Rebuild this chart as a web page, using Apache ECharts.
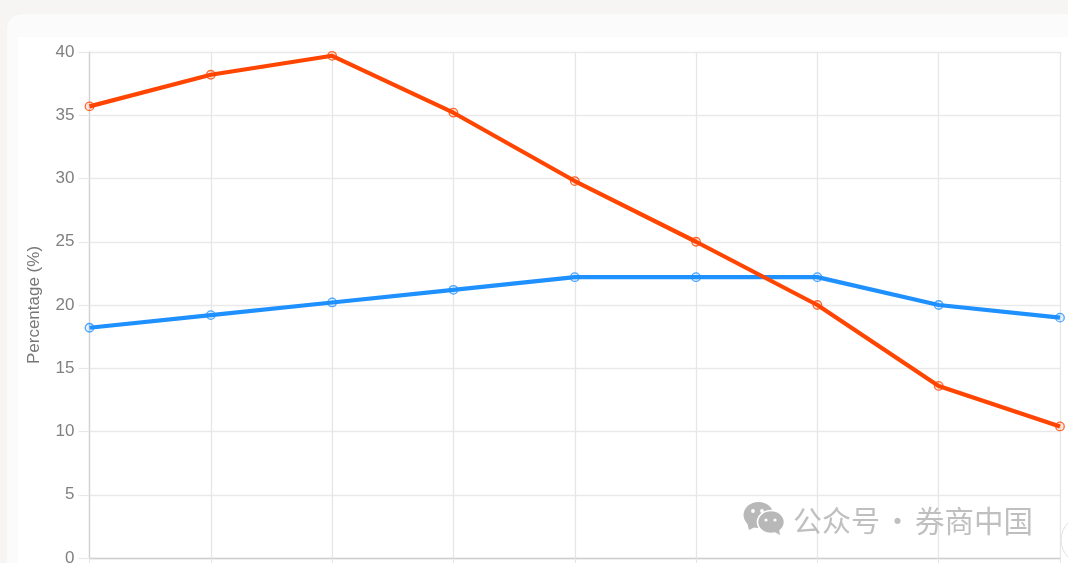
<!DOCTYPE html>
<html><head><meta charset="utf-8">
<style>
html,body{margin:0;padding:0;background:#f6f5f3;overflow:hidden}
#card{position:absolute;left:7px;top:14px;width:1100px;height:600px;background:#fbfbfb;border-radius:14px;box-shadow:0 0 1px #e8e8e6}
#panel{position:absolute;left:18px;top:37px;width:1060px;height:540px;background:#fff}
#chart{position:absolute;left:0;top:0;width:1068px;height:563px}
</style>
<script src="https://cdn.jsdelivr.net/npm/echarts@6/dist/echarts.min.js"></script>
</head><body>
<div id="card"></div><div id="panel"></div><div id="chart"></div>
<script>
const categories = ['1','2','3','4','5','6','7','8','9'];
const redValues = [35.7, 38.2, 39.7, 35.2, 29.8, 25, 20, 13.6, 10.4];
const blueValues = [18.2, 19.2, 20.2, 21.2, 22.2, 22.2, 22.2, 20, 19];
const yAxisTitle = 'Percentage (%)';
const watermarkA = '公众号';
const watermarkDot = '·';
const watermarkB = '券商中国';

const chart = echarts.init(document.getElementById('chart'), null, {renderer:'canvas'});
const mkSeries = (name, data, color, fill) => ({
  name, type:'line', data, clip:false, smooth:false,
  symbol:'circle', symbolSize:8.5, showSymbol:true,
  lineStyle:{color, width:4.2},
  itemStyle:{color:fill, borderColor:color, borderWidth:1.3, opacity:.8},
  emphasis:{disabled:true}, z:5
});
const wmColor = '#b8b8b8';
const wmText = (x, t, size) => ({
  type:'text', left:x, top:526-size*0.68, z:20, silent:true,
  style:{text:t, fill:wmColor, font:`${size}px "Noto Sans CJK SC"`, opacity:.9}
});
chart.setOption({
  animation:false,
  backgroundColor:'transparent',
  grid:{left:89.5, right:8, top:52, bottom:5, containLabel:false, outerBoundsMode:'none'},
  xAxis:{
    type:'category', data:categories, boundaryGap:false,
    axisLine:{show:true, lineStyle:{color:'#cfcfcf', width:1.3}},
    axisTick:{show:true, length:6, alignWithLabel:true, lineStyle:{color:'#e4e4e4'}},
    axisLabel:{show:false},
    splitLine:{show:true, lineStyle:{color:'#e6e6e6', width:1.3}}
  },
  yAxis:{
    type:'value', min:0, max:40, interval:5,
    name:yAxisTitle, nameLocation:'middle', nameGap:47, nameRotate:90,
    nameTextStyle:{color:'#777', fontSize:17, fontFamily:'Liberation Sans'},
    axisLine:{show:true, lineStyle:{color:'#d2d2d2', width:1.3}},
    axisTick:{show:true, length:11, lineStyle:{color:'#e8e8e8', width:1.2}},
    axisLabel:{color:'#808080', fontSize:17, margin:15, fontFamily:'Liberation Sans'},
    splitLine:{show:true, lineStyle:{color:'#e9e9e9', width:1.3}}
  },
  series:[
    mkSeries('Blue', blueValues, '#1e90ff', 'rgba(30,144,255,0.15)'),
    mkSeries('Red', redValues, '#ff4500', 'rgba(255,69,0,0.15)')
  ],
  graphic:[
    {type:'circle', shape:{cx:1085,cy:540,r:24}, z:19, silent:true, style:{fill:'#fff',stroke:'#e2e2e2',lineWidth:1}},
    {type:'ellipse', shape:{cx:758.5,cy:515,rx:15,ry:13}, z:20, silent:true, style:{fill:wmColor}},
    {type:'polygon', shape:{points:[[747,522],[749,530],[757,526]]}, z:20, silent:true, style:{fill:wmColor}},
    {type:'ellipse', shape:{cx:771,cy:522,rx:13.5,ry:11.5}, z:21, silent:true, style:{fill:wmColor,stroke:'#fff',lineWidth:1.6}},
    {type:'polygon', shape:{points:[[773,531],[780,535],[779,529]]}, z:21, silent:true, style:{fill:wmColor}},
    {type:'circle', shape:{cx:753,cy:511,r:1.9}, z:22, silent:true, style:{fill:'#fff'}},
    {type:'circle', shape:{cx:762,cy:511,r:1.9}, z:22, silent:true, style:{fill:'#fff'}},
    {type:'circle', shape:{cx:766,cy:520,r:1.6}, z:22, silent:true, style:{fill:'#fff'}},
    {type:'circle', shape:{cx:775,cy:520,r:1.6}, z:22, silent:true, style:{fill:'#fff'}},
    wmText(793, watermarkA, 29),
    wmText(883, watermarkDot, 29),
    wmText(915, watermarkB, 29.5)
  ]
});
</script>
</body></html>
